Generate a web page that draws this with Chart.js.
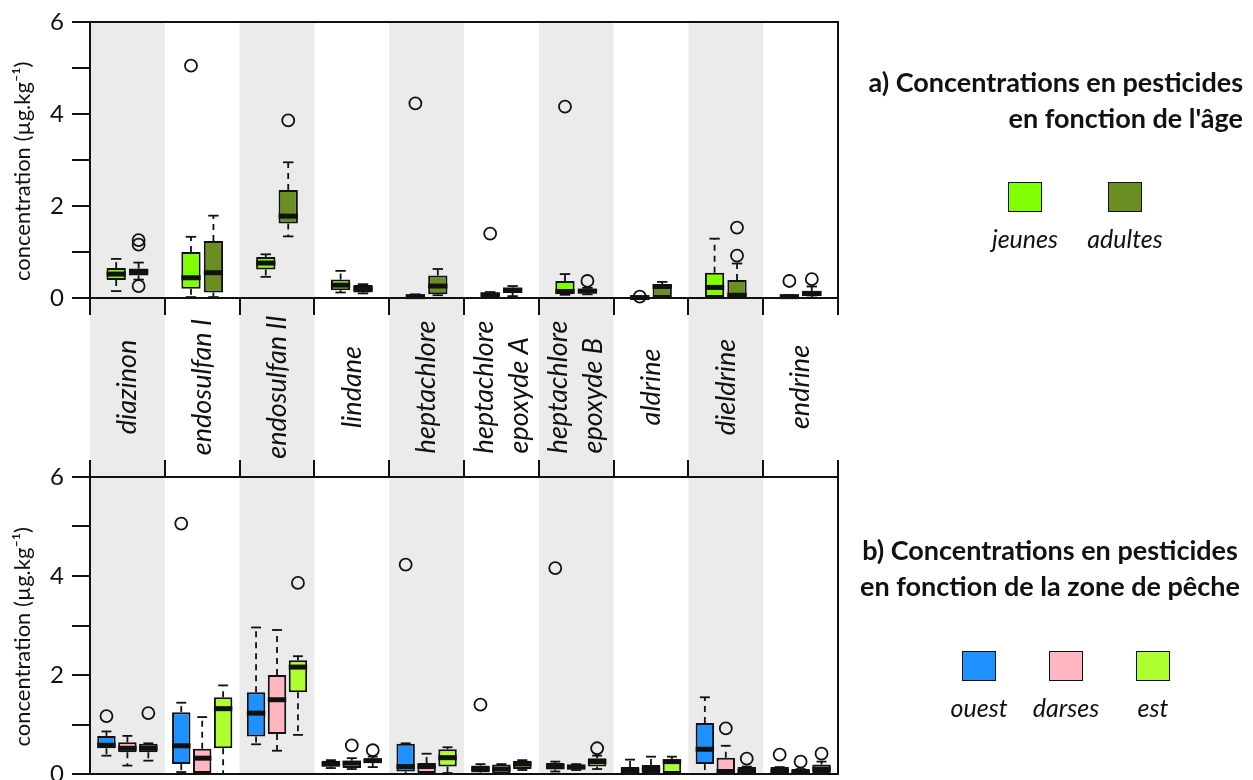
<!DOCTYPE html>
<html>
<head>
<meta charset="utf-8">
<script src="https://cdn.jsdelivr.net/npm/chart.js@4.4.0/dist/chart.umd.min.js"></script>
<style>
  html, body { margin:0; padding:0; background:#fff; }
  #wrap { position:relative; width:1253px; height:780px; overflow:hidden; font-family:Lato, sans-serif; color:#111; }
  canvas { position:absolute; left:0; }
  .ttl { position:absolute; font-weight:bold; font-size:27px; line-height:36px; white-space:nowrap; }
  .sw { position:absolute; box-sizing:border-box; width:34px; height:30px; border:1.5px solid #111; }
  .lab { position:absolute; font-style:italic; font-size:25px; width:120px; margin-left:-60px; text-align:center; line-height:30px; }
</style>
</head>
<body>
<div id="wrap">
  <canvas id="topChart" width="1253" height="476" style="top:0"></canvas>
  <canvas id="botChart" width="1253" height="340" style="top:440px"></canvas>
  <div class="ttl" style="right:10px; top:64px; text-align:right">a) Concentrations en pesticides<br>en fonction de l'âge</div>
  <div class="ttl" style="left:830px; width:440px; top:532px; text-align:center">b) Concentrations en pesticides<br>en fonction de la zone de pêche</div>
  <div id="legA"></div>
  <div id="legB"></div>
</div>
<script>
const categories = ['diazinon', 'endosulfan I', 'endosulfan II', 'lindane', 'heptachlore',
  ['heptachlore', 'epoxyde A'], ['heptachlore', 'epoxyde B'], 'aldrine', 'dieldrine', 'endrine'];
const yTickLabels = [0, 2, 4, 6];

// boxes: [min, q1, median, q3, max] per pesticide
const ageGroups = ['jeunes', 'adultes'];
const ageColors = ['#7FFF00', '#6B8E23'];
const jeunes = [[0.15,0.39,0.52,0.65,0.85], [0.02,0.20,0.44,1.00,1.33], [0.46,0.62,0.76,0.89,0.95],
  [0.12,0.17,0.28,0.40,0.59], [0.00,0.01,0.03,0.06,0.08], [0.02,0.03,0.07,0.12,0.13],
  [0.07,0.11,0.14,0.37,0.52], [0.00,0.005,0.01,0.02,0.02], [0.00,0.02,0.23,0.55,1.29], [0.00,0.00,0.03,0.06,0.06]];
const jeunesOut = [[], [5.05], [], [], [4.23], [1.40], [4.16], [0.03], [], [0.37]];
const adultes = [[0.40,0.49,0.57,0.64,0.77], [0.02,0.12,0.55,1.24,1.79], [1.34,1.62,1.78,2.35,2.95],
  [0.10,0.12,0.20,0.28,0.30], [0.06,0.08,0.26,0.49,0.63], [0.04,0.11,0.17,0.23,0.26],
  [0.08,0.10,0.15,0.20,0.22], [0.00,0.02,0.25,0.29,0.35], [0.00,0.02,0.06,0.39,0.75], [0.01,0.04,0.10,0.15,0.25]];
const adultesOut = [[1.26,1.16,0.26], [], [3.86], [], [], [], [0.37], [], [0.92,1.53], [0.41]];

const zoneGroups = ['ouest', 'darses', 'est'];
const zoneColors = ['#1E90FF', '#FFB6C1', '#ADFF2F'];
const ouest = [[0.37,0.52,0.58,0.77,0.86], [0.04,0.20,0.57,1.25,1.44], [0.60,0.76,1.23,1.65,2.96],
  [0.12,0.15,0.20,0.27,0.28], [0.00,0.05,0.15,0.61,0.62], [0.00,0.03,0.10,0.17,0.20],
  [0.05,0.09,0.15,0.22,0.25], [0.00,0.00,0.07,0.14,0.29], [0.00,0.20,0.50,1.03,1.55], [0.00,0.00,0.05,0.14,0.14]];
const ouestOut = [[1.17], [5.06], [], [], [4.23], [1.40], [4.16], [], [], [0.39]];
const darses = [[0.17,0.44,0.52,0.64,0.77], [0.00,0.00,0.32,0.51,1.15], [0.47,0.81,1.50,2.00,2.91],
  [0.10,0.12,0.22,0.27,0.32], [0.00,0.02,0.15,0.22,0.41], [0.00,0.01,0.10,0.19,0.20],
  [0.08,0.09,0.14,0.19,0.20], [0.00,0.00,0.10,0.18,0.35], [0.00,0.00,0.05,0.33,0.57], [0.00,0.00,0.03,0.10,0.10]];
const darsesOut = [[], [], [], [0.58], [], [], [], [], [0.92], [0.25]];
const est = [[0.27,0.44,0.52,0.61,0.62], [0.00,0.52,1.32,1.55,1.79], [0.79,1.65,2.16,2.30,2.38],
  [0.14,0.22,0.27,0.31,0.35], [0.02,0.15,0.33,0.50,0.54], [0.08,0.10,0.20,0.27,0.28],
  [0.10,0.15,0.25,0.32,0.37], [0.00,0.00,0.25,0.30,0.35], [0.00,0.00,0.05,0.14,0.15], [0.00,0.02,0.10,0.19,0.25]];
const estOut = [[1.23], [], [3.86], [0.48], [], [], [0.52], [], [0.31], [0.41]];

Chart.defaults.font.family = 'Lato';
Chart.defaults.color = '#111';

function makeSets(names, colors, statsList, outList) {
  return names.map((n, k) => ({
    label: n,
    data: statsList[k].map(s => [s[1], s[3]]),
    stats: statsList[k],
    outliers: outList[k],
    backgroundColor: colors[k],
    borderColor: '#111',
    borderWidth: 2,
    borderSkipped: false
  }));
}

// grey bands behind every other pesticide
const bands = {
  id: 'bands',
  beforeDraw(chart, args, opts) {
    const {ctx, chartArea: a, scales: {x}} = chart;
    const y1 = opts.toEnd ? chart.height : a.bottom;
    ctx.save();
    ctx.fillStyle = '#EBEBEB';
    categories.forEach((c, i) => {
      if (i % 2) return;
      const l = x.getPixelForValue(i - 0.5), r = x.getPixelForValue(i + 0.5);
      ctx.fillRect(l, a.top, r - l, y1 - a.top);
    });
    ctx.restore();
  }
};

// whiskers, medians and outliers on top of the floating bars
const boxes = {
  id: 'boxes',
  afterDatasetsDraw(chart) {
    const {ctx, scales: {y}} = chart;
    const line = (x0, y0, x1, y1) => { ctx.beginPath(); ctx.moveTo(x0, y0); ctx.lineTo(x1, y1); ctx.stroke(); };
    ctx.save();
    ctx.strokeStyle = '#111';
    chart.data.datasets.forEach((ds, di) => {
      chart.getDatasetMeta(di).data.forEach((bar, i) => {
        const [lo, q1, med, q3, hi] = ds.stats[i];
        const cx = bar.x, w = bar.width, cap = w * 0.27;
        const py = v => y.getPixelForValue(v);
        ctx.lineWidth = 1.8;
        ctx.setLineDash([6, 5]);
        if (hi > q3) line(cx, py(q3), cx, py(hi));
        if (lo < q1) line(cx, py(q1), cx, py(lo));
        ctx.setLineDash([]);
        line(cx - cap, py(hi), cx + cap, py(hi));
        line(cx - cap, py(lo), cx + cap, py(lo));
        ctx.lineWidth = 5;
        line(cx - w / 2, py(med), cx + w / 2, py(med));
        ctx.lineWidth = 1.8;
        ds.outliers[i].forEach(v => {
          ctx.beginPath(); ctx.arc(cx, py(v), 6, 0, Math.PI * 2); ctx.stroke();
        });
      });
    });
    ctx.restore();
  }
};

// frame and (for the top panel) the pesticide names
const frame = {
  id: 'frame',
  afterDraw(chart, args, opts) {
    const {ctx, chartArea: a, scales: {x}} = chart;
    ctx.save();
    ctx.strokeStyle = '#111';
    ctx.lineWidth = 2;
    ctx.strokeRect(a.left, a.top, a.width, a.height);
    if (opts.names) {
      ctx.font = 'italic 27px Lato';
      ctx.fillStyle = '#111';
      ctx.textBaseline = 'middle';
      const yc = (a.bottom + chart.height) / 2;
      categories.forEach((c, i) => {
        const lines = Array.isArray(c) ? c : [c];
        const w = Math.max(...lines.map(t => ctx.measureText(t).width));
        ctx.save();
        ctx.translate(x.getPixelForValue(i), yc);
        ctx.rotate(-Math.PI / 2);
        lines.forEach((t, k) => {
          const off = (k - (lines.length - 1) / 2) * 35;
          if (lines.length > 1) { ctx.textAlign = 'left'; ctx.fillText(t, -w / 2, off); }
          else { ctx.textAlign = 'center'; ctx.fillText(t, 0, off); }
        });
        ctx.restore();
      });
    }
    ctx.restore();
  }
};

function options(xPos, xHeight, pad, catPct, barPct, names) {
  return {
    responsive: false,
    animation: false,
    layout: { padding: pad },
    plugins: {
      legend: { display: false },
      tooltip: { enabled: false },
      bands: { toEnd: names },
      frame: { names: names }
    },
    datasets: { bar: { categoryPercentage: catPct, barPercentage: barPct } },
    scales: {
      x: {
        position: xPos,
        offset: true,
        grid: { offset: true, drawOnChartArea: false, tickLength: 17, color: '#111', lineWidth: 2 },
        border: { display: false },
        ticks: { callback: () => '' },
        afterFit: s => { s.height = xHeight; s.paddingLeft = 0; s.paddingRight = 0; }
      },
      y: {
        min: 0, max: 6,
        ticks: { stepSize: 1, padding: 8, font: { size: 24 }, color: '#111',
          callback: v => yTickLabels.includes(v) ? String(v) : '' },
        grid: { drawOnChartArea: false, tickLength: 18, color: '#111', lineWidth: 2 },
        border: { display: false },
        title: { display: true, text: 'concentration (µg.kg⁻¹)\u00A0\u00A0\u00A0\u00A0', font: { size: 22 }, color: '#111',
          padding: { top: 10, bottom: 0 } },
        afterFit: s => { s.width = 90; s.paddingTop = 0; s.paddingBottom = 0; }
      }
    }
  };
}

new Chart(document.getElementById('topChart'), {
  type: 'bar',
  data: { labels: categories, datasets: makeSets(ageGroups, ageColors, [jeunes, adultes], [jeunesOut, adultesOut]) },
  options: options('bottom', 178, { left: 0, top: 22, right: 415, bottom: 0 }, 0.6, 0.86, true),
  plugins: [bands, boxes, frame]
});

new Chart(document.getElementById('botChart'), {
  type: 'bar',
  data: { labels: categories, datasets: makeSets(zoneGroups, zoneColors, [ouest, darses, est], [ouestOut, darsesOut, estOut]) },
  options: options('top', 37, { left: 0, top: 0, right: 415, bottom: 6 }, 0.84, 0.88, false),
  plugins: [bands, boxes, frame]
});

function legend(id, names, colors, xs, top) {
  const el = document.getElementById(id);
  names.forEach((n, i) => {
    el.insertAdjacentHTML('beforeend',
      `<div class="sw" style="left:${xs[i] - 17}px;top:${top}px;background:${colors[i]}"></div>` +
      `<div class="lab" style="left:${xs[i]}px;top:${top + 41}px">${n}</div>`);
  });
}
legend('legA', ageGroups, ageColors, [1025, 1125], 182);
legend('legB', zoneGroups, zoneColors, [979, 1066, 1153], 651);
</script>
</body>
</html>
